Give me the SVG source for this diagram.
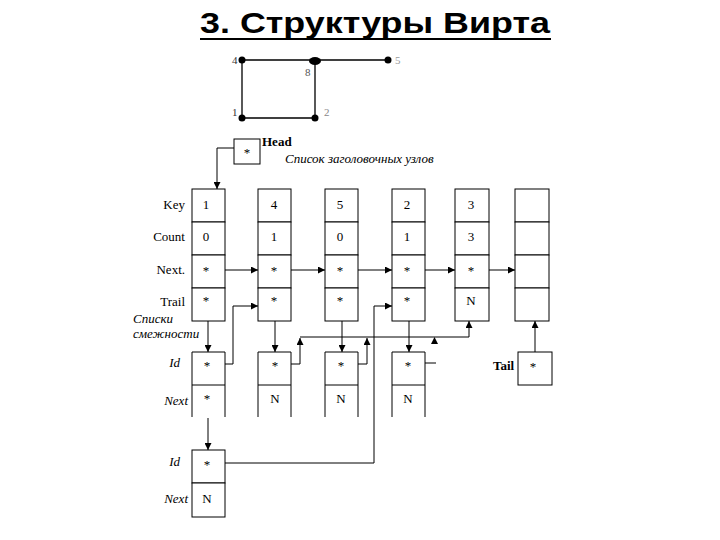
<svg xmlns="http://www.w3.org/2000/svg" width="720" height="540" viewBox="0 0 720 540">
<style>
.t{font-family:"Liberation Serif","Times New Roman",serif;font-size:13px;fill:#000}
.c{text-anchor:middle}
.e{text-anchor:end}
.i{font-style:italic}
.b{font-weight:bold}
.cell{fill:#fff;stroke:#000;stroke-width:1}
.ln{fill:none;stroke:#000;stroke-width:1}
.g{fill:none;stroke:#000;stroke-width:1.3}
.gl{font-family:"Liberation Serif",serif;font-size:11px}
</style>
<defs>
<marker id="ar" viewBox="0 0 10 10" refX="10" refY="5" markerWidth="7" markerHeight="7" markerUnits="userSpaceOnUse" orient="auto">
<path d="M0,0 L10,5 L0,10 z" fill="#000"/>
</marker>
</defs>
<rect width="720" height="540" fill="#fff"/>
<g id="title">
<text x="200" y="33" font-family="Liberation Sans, Arial, sans-serif" font-weight="bold" font-size="30" textLength="350" lengthAdjust="spacingAndGlyphs">3. Структуры Вирта</text>
<line x1="200" y1="39" x2="551" y2="39" stroke="#000" stroke-width="2"/>
</g>
<g id="graph">
<path class="g" d="M242,60 H388 M242,60 V118 H315 M315,60 V118"/>
<circle cx="242" cy="60" r="3.5"/>
<ellipse cx="315" cy="61" rx="6" ry="4"/>
<circle cx="388" cy="60" r="3.5"/>
<circle cx="242" cy="118" r="3.5"/>
<circle cx="315" cy="118" r="3.5"/>
<text class="gl" x="232" y="64" fill="#333">4</text>
<text class="gl" x="305" y="76" fill="#555">8</text>
<text class="gl" x="395" y="64" fill="#999">5</text>
<text class="gl" x="232" y="116" fill="#333">1</text>
<text class="gl" x="324" y="116" fill="#888">2</text>
</g>
<g id="head">
<rect class="cell" x="234" y="139" width="26" height="25"/>
<text class="t c" x="247" y="157">*</text>
<text class="t b" x="262" y="146" font-size="12.5">Head</text>
<text class="t i" x="285" y="163">Список заголовочных узлов</text>
</g>
<g id="rowlabels">
<text class="t e" x="185" y="209">Key</text>
<text class="t e" x="185" y="241">Count</text>
<text class="t e" x="185" y="274">Next.</text>
<text class="t e" x="185" y="306">Trail</text>
<text class="t i" x="133" y="323" font-size="12">Списки</text>
<text class="t i" x="133" y="338" font-size="12">смежности</text>
</g>
<g id="leader1">
<rect class="cell" x="192" y="189" width="33" height="33"/><rect class="cell" x="192" y="222" width="33" height="33"/><rect class="cell" x="192" y="255" width="33" height="33"/><rect class="cell" x="192" y="288" width="33" height="33"/>
<text class="t c" x="206" y="209">1</text><text class="t c" x="206" y="241">0</text><text class="t c" x="206" y="275">*</text><text class="t c" x="206" y="305">*</text>
</g>
<g id="leader4">
<rect class="cell" x="258" y="189" width="33" height="33"/><rect class="cell" x="258" y="222" width="33" height="33"/><rect class="cell" x="258" y="255" width="33" height="33"/><rect class="cell" x="258" y="288" width="33" height="33"/>
<text class="t c" x="274" y="209">4</text><text class="t c" x="274" y="241">1</text><text class="t c" x="274" y="275">*</text><text class="t c" x="274" y="305">*</text>
</g>
<g id="leader5">
<rect class="cell" x="325" y="189" width="33" height="33"/><rect class="cell" x="325" y="222" width="33" height="33"/><rect class="cell" x="325" y="255" width="33" height="33"/><rect class="cell" x="325" y="288" width="33" height="33"/>
<text class="t c" x="340" y="209">5</text><text class="t c" x="340" y="241">0</text><text class="t c" x="340" y="275">*</text><text class="t c" x="340" y="305">*</text>
</g>
<g id="leader2">
<rect class="cell" x="392" y="189" width="33" height="33"/><rect class="cell" x="392" y="222" width="33" height="33"/><rect class="cell" x="392" y="255" width="33" height="33"/><rect class="cell" x="392" y="288" width="33" height="33"/>
<text class="t c" x="407" y="209">2</text><text class="t c" x="407" y="241">1</text><text class="t c" x="407" y="275">*</text><text class="t c" x="407" y="305">*</text>
</g>
<g id="leader3">
<rect class="cell" x="455" y="189" width="34" height="33"/><rect class="cell" x="455" y="222" width="34" height="33"/><rect class="cell" x="455" y="255" width="34" height="33"/><rect class="cell" x="455" y="288" width="34" height="33"/>
<text class="t c" x="471" y="209">3</text><text class="t c" x="471" y="241">3</text><text class="t c" x="471" y="275">*</text><text class="t c" x="471" y="305">N</text>
</g>
<g id="leaderEmpty">
<rect class="cell" x="515" y="189" width="34" height="33"/><rect class="cell" x="515" y="222" width="34" height="33"/><rect class="cell" x="515" y="255" width="34" height="33"/><rect class="cell" x="515" y="288" width="34" height="33"/>
</g>
<g id="list-labels">
<text class="t i e" x="180" y="367">Id</text>
<text class="t i e" x="188" y="405">Next</text>
<text class="t i e" x="180" y="466">Id</text>
<text class="t i e" x="188" y="503">Next</text>
</g>
<g id="succ1">
<path class="ln" d="M192,417 V352 H225 V417 M192,385 H225"/>
<text class="t c" x="207" y="370">*</text><text class="t c" x="207" y="403">*</text>
</g>
<g id="succ2">
<path class="ln" d="M258,417 V352 H291 V417 M258,385 H291"/>
<text class="t c" x="275" y="370">*</text><text class="t c" x="275" y="403">N</text>
</g>
<g id="succ3">
<path class="ln" d="M325,417 V352 H358 V417 M325,385 H358"/>
<text class="t c" x="341" y="370">*</text><text class="t c" x="341" y="403">N</text>
</g>
<g id="succ4">
<path class="ln" d="M392,417 V352 H425 V417 M392,385 H425"/>
<text class="t c" x="408" y="370">*</text><text class="t c" x="408" y="403">N</text>
</g>
<g id="succ1b">
<rect class="cell" x="192" y="450" width="33" height="33"/><rect class="cell" x="192" y="483" width="33" height="34"/>
<text class="t c" x="207" y="469">*</text><text class="t c" x="207" y="503">N</text>
</g>
<g id="tail">
<rect class="cell" x="518" y="352" width="34" height="33"/>
<text class="t c" x="533" y="371">*</text>
<text class="t b" x="493" y="370" font-size="12.5">Tail</text>
</g>
<g id="connectors">
<path class="ln" d="M234,148 H217 V189" marker-end="url(#ar)"/>
<path class="ln" d="M225,270 H258" marker-end="url(#ar)"/>
<path class="ln" d="M291,270 H325" marker-end="url(#ar)"/>
<path class="ln" d="M358,270 H392" marker-end="url(#ar)"/>
<path class="ln" d="M425,270 H455" marker-end="url(#ar)"/>
<path class="ln" d="M489,270 H515" marker-end="url(#ar)"/>
<path class="ln" d="M208,321 V352" marker-end="url(#ar)"/>
<path class="ln" d="M275,321 V352" marker-end="url(#ar)"/>
<path class="ln" d="M342,321 V352" marker-end="url(#ar)"/>
<path class="ln" d="M409,321 V352" marker-end="url(#ar)"/>
<path class="ln" d="M208,418 V450" marker-end="url(#ar)"/>
<path class="ln" d="M225,364 H233 V306 H258" marker-end="url(#ar)"/>
<path class="ln" d="M225,463 H374 V306 H392" marker-end="url(#ar)"/>
<path class="ln" d="M291,364 H300 V338" marker-end="url(#ar)"/>
<path class="ln" d="M358,364 H367 V338" marker-end="url(#ar)"/>
<path class="ln" d="M300,337 H469 V321" marker-end="url(#ar)"/>
<path class="ln" d="M425,363 H436"/>
<path d="M431,344 L434.5,337 L438,344 z" fill="#000"/>
<path class="ln" d="M535,352 V321" marker-end="url(#ar)"/>
</g>
</svg>
